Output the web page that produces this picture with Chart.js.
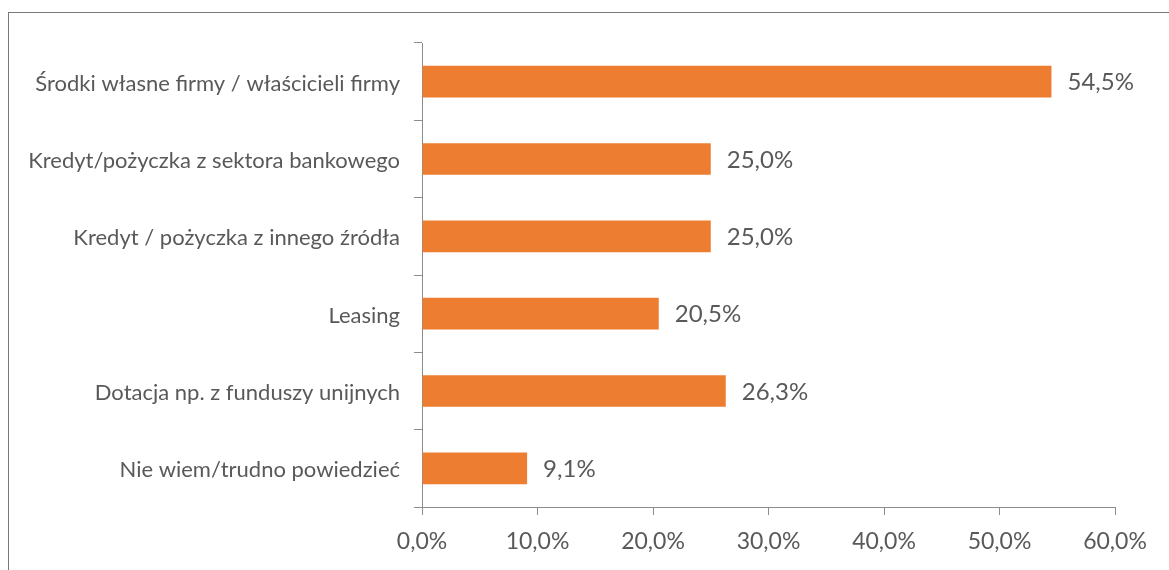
<!DOCTYPE html>
<html lang="pl">
<head>
<meta charset="utf-8">
<script src="https://cdn.jsdelivr.net/npm/chart.js@4/dist/chart.umd.min.js"></script>
<style>
  html, body { margin: 0; padding: 0; background: #fff; }
  #wrap { position: relative; width: 1169px; height: 570px; }
</style>
</head>
<body>
<div id="wrap"><canvas id="c" width="1169" height="570"></canvas></div>
<script>
// Źródła finansowania inwestycji (odsetek wskazań)
const categories = [
  'Środki własne firmy / właścicieli firmy',
  'Kredyt/pożyczka z sektora bankowego',
  'Kredyt / pożyczka z innego źródła',
  'Leasing',
  'Dotacja np. z funduszy unijnych',
  'Nie wiem/trudno powiedzieć'
];
const shares = [54.5, 25.0, 25.0, 20.5, 26.3, 9.1];
const xTicks = [0, 10, 20, 30, 40, 50, 60];

const FONT = 'Lato, "Open Sans", sans-serif';
const TEXT = '#595959';
const AXIS = '#8c8c8c';

const fmt = v => v.toFixed(1).replace('.', ',') + '%';

// outer frame around the chart
const framePlugin = {
  id: 'frame',
  beforeDraw(chart) {
    const ctx = chart.ctx;
    ctx.save();
    ctx.strokeStyle = '#7a7a7a';
    ctx.lineWidth = 1;
    ctx.strokeRect(8.5, 12.5, 1300, 700);
    ctx.restore();
  }
};

// value labels to the right of each bar
const valueLabels = {
  id: 'valueLabels',
  afterDatasetsDraw(chart) {
    const ctx = chart.ctx;
    const meta = chart.getDatasetMeta(0);
    ctx.save();
    ctx.font = '24px ' + FONT;
    ctx.fillStyle = TEXT;
    ctx.textAlign = 'left';
    ctx.textBaseline = 'middle';
    meta.data.forEach((bar, i) => {
      ctx.fillText(fmt(shares[i]), bar.x + 16, bar.y + 1);
    });
    ctx.restore();
  }
};

new Chart(document.getElementById('c'), {
  type: 'bar',
  data: {
    labels: categories,
    datasets: [{
      data: shares,
      backgroundColor: '#ED7D31',
      borderWidth: 0,
      categoryPercentage: 1,
      barPercentage: 0.41
    }]
  },
  options: {
    indexAxis: 'y',
    responsive: false,
    animation: false,
    events: [],
    layout: { padding: { top: 43, right: 54, left: 0, bottom: 0 } },
    plugins: { legend: { display: false }, tooltip: { enabled: false } },
    scales: {
      x: {
        min: 0,
        max: 60,
        afterBuildTicks(scale) { scale.ticks = xTicks.map(v => ({ value: v })); },
        afterFit(scale) { scale.height = 63; },
        grid: { drawOnChartArea: false, drawTicks: true, tickLength: 8, color: AXIS },
        border: { display: true, color: AXIS, width: 1 },
        ticks: {
          color: TEXT,
          font: { family: FONT, size: 23 },
          padding: 13,
          callback: v => fmt(v)
        }
      },
      y: {
        afterFit(scale) { scale.width = 422; },
        grid: { offset: true, drawOnChartArea: false, drawTicks: true, tickLength: 8, color: AXIS },
        border: { display: true, color: AXIS, width: 1 },
        ticks: {
          color: TEXT,
          font: { family: FONT, size: 22 },
          padding: 14,
          labelOffset: 2
        }
      }
    }
  },
  plugins: [framePlugin, valueLabels]
});
</script>
</body>
</html>
